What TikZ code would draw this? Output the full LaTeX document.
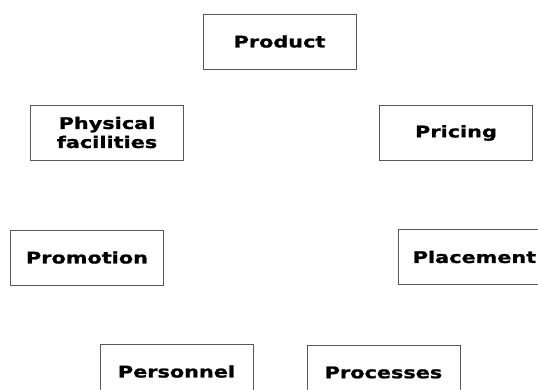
\documentclass[tikz,border=0pt]{standalone}
\usepackage{fontspec}
\newfontfamily\widefont{DejaVu Sans Bold}[FakeStretch=1.3,FakeBold=1.2]
\begin{document}
\begin{tikzpicture}[x=1pt,y=-1pt,
  mixbox/.style={draw=black!65, line width=0.9pt, minimum width=153pt, minimum height=55pt,
    inner sep=0pt, align=center, font=\widefont\fontsize{16}{19}\selectfont}]
\useasboundingbox (0,0) rectangle (538,390);
\node[mixbox] (product) at (279.5,41.5) {Product};
\node[mixbox] (physical) at (107,132.5) {Physical\\facilities};
\node[mixbox] (pricing) at (456,133) {Pricing};
\node[mixbox] (promotion) at (87,257.5) {Promotion};
\node[mixbox] (placement) at (474.5,257) {Placement};
\node[mixbox] (personnel) at (176.5,371.5) {Personnel};
\node[mixbox] (processes) at (383.5,372.5) {Processes};
\end{tikzpicture}
\end{document}
